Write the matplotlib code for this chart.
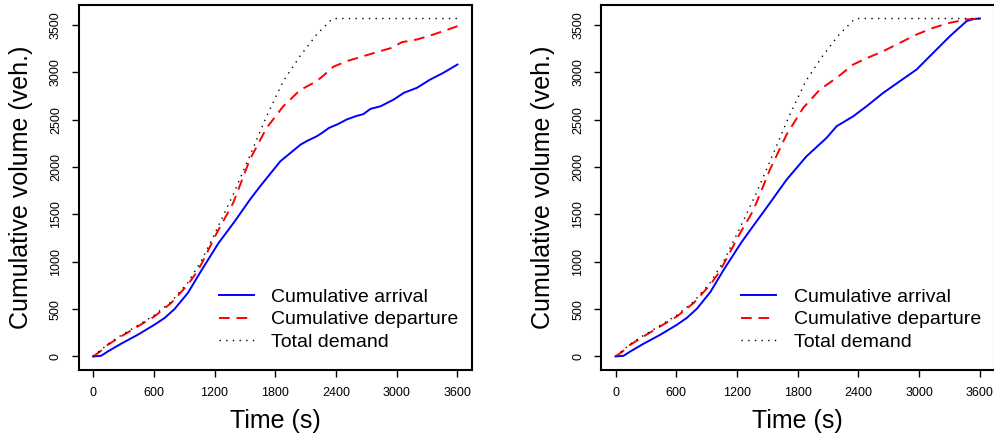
import matplotlib
matplotlib.use("Agg")
import matplotlib.pyplot as plt

plt.rcParams['font.family'] = ['Liberation Sans', 'DejaVu Sans']

# ---------------- data ----------------
time_ticks = [0, 600, 1200, 1800, 2400, 3000, 3600]
vol_ticks = [0, 500, 1000, 1500, 2000, 2500, 3000, 3500]
labels = ["Cumulative arrival", "Cumulative departure", "Total demand"]

# total demand (same in both panels)
demand_t = [0, 145, 276, 441, 606, 771, 936, 1070, 1203, 1384, 1483, 1582, 1714, 1879, 2044, 2209, 2357, 2400, 3600]
demand_v = [0, 130, 222, 327, 437, 578, 780, 1010, 1300, 1709, 1956, 2203, 2537, 2908, 3172, 3401, 3560, 3570, 3570]

# left panel
left_arr_t = [0, 79, 146, 276, 441, 606, 705, 804, 936, 1068, 1240, 1400, 1550, 1650, 1850, 1950, 2050,
              2120, 2210, 2260, 2330, 2420, 2505, 2600, 2670, 2740, 2840, 2970, 3070, 3200, 3330, 3460, 3600]
left_arr_v = [0, 7, 53, 134, 229, 335, 405, 500, 670, 905, 1199, 1428, 1657, 1797, 2062, 2150, 2238,
              2280, 2326, 2360, 2414, 2455, 2503, 2540, 2560, 2615, 2643, 2714, 2785, 2838, 2925, 2996, 3084]
left_dep_t = [0, 60, 145, 276, 441, 606, 771, 936, 1018, 1070, 1220, 1384, 1549, 1714, 1879, 2044, 2209, 2300,
              2373, 2505, 2670, 2835, 2950, 3050, 3198, 3330, 3462, 3600]
left_dep_v = [0, 45, 123, 211, 317, 423, 564, 758, 881, 975, 1300, 1621, 2080, 2414, 2643, 2813, 2908, 2990,
              3060, 3119, 3172, 3225, 3260, 3320, 3348, 3390, 3437, 3489]

# right panel
right_arr_t = [0, 79, 146, 276, 441, 606, 705, 804, 936, 1068, 1240, 1300, 1525, 1690, 1887, 2085, 2184,
               2348, 2480, 2645, 2809, 2974, 3139, 3304, 3468, 3540, 3600]
right_arr_v = [0, 7, 53, 134, 229, 335, 408, 505, 680, 915, 1200, 1290, 1621, 1868, 2115, 2309, 2432,
               2537, 2643, 2785, 2908, 3031, 3208, 3384, 3542, 3565, 3570]
right_dep_t = [0, 60, 145, 276, 441, 606, 771, 936, 1018, 1070, 1229, 1360, 1525, 1690, 1854, 2019, 2184, 2348,
               2480, 2645, 2809, 2974, 3139, 3304, 3468, 3600]
right_dep_v = [0, 45, 123, 211, 317, 423, 564, 758, 881, 980, 1300, 1540, 1974, 2344, 2626, 2820, 2943, 3084,
               3150, 3225, 3313, 3401, 3472, 3525, 3560, 3570]

panels = [
    (left_arr_t, left_arr_v, left_dep_t, left_dep_v),
    (right_arr_t, right_arr_v, right_dep_t, right_dep_v),
]

# ---------------- figure ----------------
fig = plt.figure(figsize=(9.95, 4.41), dpi=100)
lefts = [0.0789, 0.604]
for left, (at, av, dt, dv) in zip(lefts, panels):
    ax = fig.add_axes([left, 0.161, 0.3955, 0.8277])
    ax.plot(at, av, color='#0000FF', lw=1.4, label=labels[0])
    ax.plot(dt, dv, color='#FF0000', lw=1.4, linestyle=(0, (5.5, 3.5)), label=labels[1])
    ax.plot(demand_t, demand_v, color='black', lw=1.0, linestyle=(0, (1, 3.8)), label=labels[2])
    ax.set_xlim(-144, 3744)
    ax.set_ylim(-143, 3713)
    ax.set_xticks(time_ticks)
    ax.set_xticklabels([str(t) for t in time_ticks], fontsize=9)
    ax.set_yticks(vol_ticks)
    ax.set_yticklabels([str(v) for v in vol_ticks], fontsize=9, rotation=90, va='center')
    ax.tick_params(direction='out', length=5, width=1, pad=7)
    for s in ax.spines.values():
        s.set_linewidth(1.5)
    ax.set_xlabel("Time (s)", fontsize=18)
    ax.set_ylabel("Cumulative volume (veh.)", fontsize=18)
    ax.xaxis.set_label_coords(0.5, -0.107)
    ax.yaxis.set_label_coords(-0.1156, 0.5)
    ax.legend(frameon=False, fontsize=14, handlelength=1.8, handletextpad=0.9,
              labelspacing=0.26, loc='lower left', bbox_to_anchor=(0.357, 0.052),
              borderpad=0, borderaxespad=0)

fig.savefig("out.png", dpi=100)
